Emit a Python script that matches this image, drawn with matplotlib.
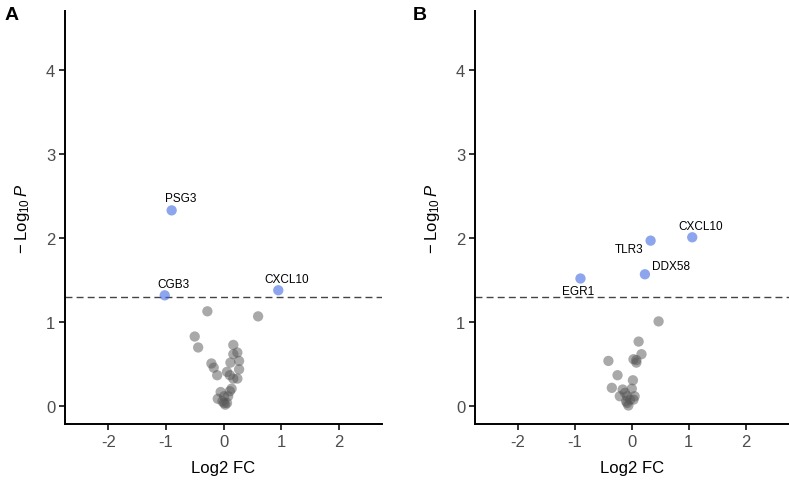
import matplotlib
matplotlib.use("Agg")
import matplotlib.pyplot as plt
import numpy as np

plt.rcParams['font.family'] = ['Liberation Sans', 'DejaVu Sans']
plt.rcParams['mathtext.fontset'] = 'custom'
plt.rcParams['mathtext.rm'] = 'Liberation Sans'
plt.rcParams['mathtext.it'] = 'Liberation Sans:italic'

# Panel A data
a_grey_fc = [-0.28, 0.60, -0.50, -0.44, 0.17, 0.24, 0.17, 0.27, 0.12, 0.27, -0.21, -0.17,
             -0.11, 0.06, 0.11, 0.17, 0.24, 0.14, 0.11, -0.05, -0.10, 0.01, 0.08, 0.01,
             0.06, 0.03, -0.02]
a_grey_p = [1.13, 1.07, 0.83, 0.70, 0.73, 0.64, 0.62, 0.54, 0.52, 0.44, 0.51, 0.46,
            0.37, 0.41, 0.37, 0.33, 0.33, 0.21, 0.18, 0.17, 0.09, 0.12, 0.12, 0.04,
            0.04, 0.02, 0.06]
a_sig_genes = ['PSG3', 'CGB3', 'CXCL10']
a_sig_fc = [-0.90, -1.02, 0.95]
a_sig_p = [2.33, 1.32, 1.38]

# Panel B data
b_grey_fc = [0.47, 0.12, 0.17, 0.03, 0.08, 0.08, -0.41, -0.25, 0.02, -0.35, -0.16, 0.00,
             -0.12, -0.21, -0.08, 0.05, -0.03, -0.10, 0.03, -0.06, -0.08]
b_grey_p = [1.01, 0.77, 0.62, 0.56, 0.55, 0.52, 0.54, 0.37, 0.31, 0.22, 0.20, 0.21,
            0.16, 0.12, 0.12, 0.12, 0.08, 0.06, 0.08, 0.01, 0.04]
b_sig_genes = ['CXCL10', 'TLR3', 'DDX58', 'EGR1']
b_sig_fc = [1.06, 0.33, 0.23, -0.90]
b_sig_p = [2.01, 1.97, 1.57, 1.52]

x_ticks = [-2, -1, 0, 1, 2]
y_ticks = [0, 1, 2, 3, 4]
threshold = -np.log10(0.05)

fig = plt.figure(figsize=(7.89, 4.85), dpi=100)
axA = fig.add_axes([0.0824, 0.1237, 0.4018, 0.8515])
axB = fig.add_axes([0.602, 0.1237, 0.3975, 0.8515])

grey = '#555555'
blue = '#4169e1'

def style(ax):
    ax.set_xlim(-2.75, 2.75)
    ax.set_ylim(-0.21, 4.70)
    ax.set_xticks(x_ticks)
    ax.set_xticklabels([str(t) for t in x_ticks])
    ax.set_yticks(y_ticks)
    for s in ['top', 'right']:
        ax.spines[s].set_visible(False)
    for s in ['left', 'bottom']:
        ax.spines[s].set_linewidth(1.4)
        ax.spines[s].set_color('black')
    ax.tick_params(axis='both', length=4, width=1.4, color='#333333',
                   labelsize=12, labelcolor='#4d4d4d', pad=3)
    ax.axhline(threshold, color='#444444', lw=1.0, ls=(0, (5, 3)), zorder=1)
    ax.set_xlabel('Log2 FC', fontsize=12, labelpad=8)
    ax.set_ylabel(r'$-\;\mathrm{Log}_{10}\,\mathit{P}$', fontsize=12, labelpad=10)

def draw(ax, gfc, gp, genes, sfc, sp, offsets):
    ax.scatter(gfc, gp, s=55, color=grey, alpha=0.5, edgecolors='none', zorder=2)
    ax.scatter(sfc, sp, s=55, color=blue, alpha=0.6, edgecolors='none', zorder=3)
    for g, x, y, (dx, dy, ha, va) in zip(genes, sfc, sp, offsets):
        ax.annotate(g, (x, y), xytext=(dx, dy), textcoords='offset points',
                    ha=ha, va=va, fontsize=8.5, color='black')
    style(ax)

draw(axA, a_grey_fc, a_grey_p, a_sig_genes, a_sig_fc, a_sig_p,
     [(6.5, 4.5, 'center', 'bottom'), (6.5, 4, 'center', 'bottom'), (6, 3.5, 'center', 'bottom')])
draw(axB, b_grey_fc, b_grey_p, b_sig_genes, b_sig_fc, b_sig_p,
     [(6, 4, 'center', 'bottom'), (-5, -1.5, 'right', 'top'), (5, 1.5, 'left', 'bottom'),
      (-2, -5, 'center', 'top')])

fig.text(0.006, 0.968, 'A', fontsize=14, fontweight='bold', va='center', ha='left')
fig.text(0.523, 0.968, 'B', fontsize=14, fontweight='bold', va='center', ha='left')

fig.savefig('out.png', dpi=100)
